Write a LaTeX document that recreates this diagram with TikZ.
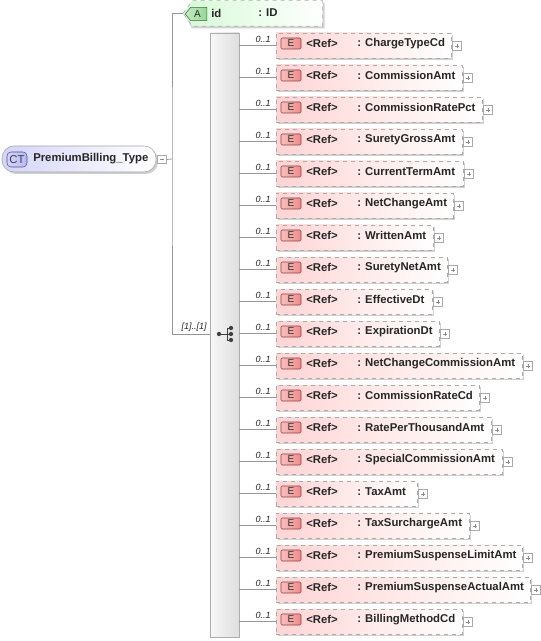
\documentclass[tikz,border=0pt]{standalone}
\usepackage{fontspec}
\setmainfont{Liberation Sans}
\usepackage{xcolor}
\usetikzlibrary{positioning,shadows}

\definecolor{elfill}{RGB}{255,212,212}
\definecolor{etag}{RGB}{238,140,140}
\definecolor{etagline}{RGB}{150,60,60}
\definecolor{atfill}{RGB}{214,250,214}
\definecolor{atag}{RGB}{150,215,150}
\definecolor{atagline}{RGB}{60,110,60}
\definecolor{ctfill}{RGB}{212,212,250}
\definecolor{ctag}{RGB}{185,185,240}
\definecolor{ctagline}{RGB}{80,80,140}
\definecolor{boxline}{RGB}{170,170,170}
\definecolor{lineclr}{RGB}{150,150,150}

\begin{document}
\begin{tikzpicture}[x=0.75pt,y=-0.75pt,
  font=\fontsize{8.5}{10}\selectfont\bfseries, text=black!85,
  shd/.style={drop shadow={shadow xshift=1.5pt,shadow yshift=-1.5pt,fill=black!18,opacity=1}},
  elem/.style={draw=boxline,dashed,left color=elfill,right color=white,minimum height=18.75pt,inner sep=0pt,anchor=west,shd},
  etagbox/.style={draw=etagline,left color=etag!55,right color=etag,rounded corners=1pt,minimum width=15pt,minimum height=8.25pt,inner sep=0pt,font=\fontsize{7.5}{8}\selectfont,text=black!80},
  txt/.style={anchor=west,inner sep=0pt},
  card/.style={anchor=south east,inner sep=0pt,font=\fontsize{6.75}{7}\selectfont\itshape\mdseries},
  plusbox/.style={draw=boxline,fill=white,minimum size=6.4pt,inner sep=0pt,
    path picture={\draw[black!45,line width=0.4pt] ([xshift=-1.8pt]path picture bounding box.center) -- ([xshift=1.8pt]path picture bounding box.center)
      ([yshift=-1.8pt]path picture bounding box.center) -- ([yshift=1.8pt]path picture bounding box.center);}},
  conn/.style={draw=lineclr,line width=0.6pt}]
 \useasboundingbox (0,0) rectangle (540,641);
 % complex type
 \node[draw=black!35,left color=ctfill,right color=white,rounded corners=9pt,minimum width=115.5pt,minimum height=19.5pt,inner sep=0pt,shd] (ct) at (79,159) {};
 \node[draw=ctagline,left color=ctag!60,right color=ctag,rounded corners=3pt,minimum width=15pt,minimum height=11.25pt,inner sep=0pt,font=\fontsize{8.5}{9}\selectfont\mdseries,text=ctagline!70!black] (cttag) at (17,159.5) {CT};
 \node[txt] (ctname) at (33,159) {PremiumBilling\_Type};
 \node[draw=boxline,fill=white,minimum size=6.4pt,inner sep=0pt,
   path picture={\draw[black!45,line width=0.4pt] ([xshift=-1.8pt]path picture bounding box.center) -- ([xshift=1.8pt]path picture bounding box.center);}] (ctm) at (162,159.5) {};
 \coordinate (fork) at (172,159);
 % attribute
 \node[minimum width=104.25pt,minimum height=18.75pt,inner sep=0pt,anchor=west] (attr) at (183,13.5) {};
 \fill[black!18] ([shift={(2,2)}]attr.west) -- ([shift={(9,2)}]attr.north west) -- ([shift={(2,2)}]attr.north east)
   -- ([shift={(2,2)}]attr.south east) -- ([shift={(9,2)}]attr.south west) -- cycle;
 \draw[boxline,dashed,left color=atfill,right color=white] (attr.west) -- ([xshift=7]attr.north west) -- (attr.north east)
   -- (attr.south east) -- ([xshift=7]attr.south west) -- cycle;
 \node[minimum width=15.75pt,minimum height=9.5pt,inner sep=0pt,font=\fontsize{7.5}{8}\selectfont\mdseries] (atag) at (196,14) {};
 \draw[atagline,left color=atag!55,right color=atag] (atag.west) -- ([xshift=4]atag.north west) -- (atag.north east)
   -- (atag.south east) -- ([xshift=4]atag.south west) -- cycle;
 \node[font=\fontsize{7.5}{8}\selectfont\mdseries,inner sep=0pt] (alabel) at ([xshift=1]atag.center) {A};
 \node[txt] (aname) at (211,13) {id};
 \node[txt] (atype) at (258,13) {: ID};
 % sequence
 \node[draw=black!32,left color=black!3,right color=black!13,minimum width=21.75pt,minimum height=453pt,inner sep=0pt] (seq) at (224.5,335) {};
 \coordinate (seqin) at (210,334);
 \draw[conn] (ctm.east) -- (fork);
 \draw[conn] (attr.west) -| (fork) |- (seqin);
 \node[card] (seqcard) at (207,332) {[1]..[1]};
 \coordinate (sq) at (219,334);
 \draw[black!75,line width=0.7pt] (sq) -- ++(8,0) ++(0,-6) -- ++(0,12) ++(0,-12) -- ++(4,0) ++(-4,6) -- ++(4,0) ++(-4,6) -- ++(4,0);
 \foreach \d in {(sq),(231,328),(231,334),(231,340)} \fill[black!75] \d circle (1.6pt);
 % elements
 \foreach \nm/\r [count=\k from 0] in {ChargeTypeCd/451,CommissionAmt/462,CommissionRatePct/482,SuretyGrossAmt/462,CurrentTermAmt/463,
   NetChangeAmt/453,WrittenAmt/433,SuretyNetAmt/447,EffectiveDt/432,ExpirationDt/439,NetChangeCommissionAmt/522,CommissionRateCd/479,
   RatePerThousandAmt/491,SpecialCommissionAmt/502,TaxAmt/417,TaxSurchargeAmt/469,PremiumSuspenseLimitAmt/522,PremiumSuspenseActualAmt/530,
   BillingMethodCd/462}{
   \pgfmathsetmacro\rowy{45+32*\k}
   \pgfmathsetmacro\bw{(\r-276)*0.75}
   \node[elem,minimum width=\bw pt] (e\k) at (276,\rowy+0.5) {};
   \node[etagbox] (t\k) at (291,\rowy-1.5) {E};
   \node[txt] (r\k) at (306,\rowy-1.5) {<Ref>};
   \node[txt] (n\k) at (357,\rowy-1.5) {: \nm};
   \node[plusbox] (p\k) at (\r+6,\rowy+1) {};
   \node[card] (c\k) at (271,\rowy-2) {0..1};
   \draw[conn] (seq.east |- e\k.west) -- (e\k.west);
 }
\end{tikzpicture}
\end{document}
